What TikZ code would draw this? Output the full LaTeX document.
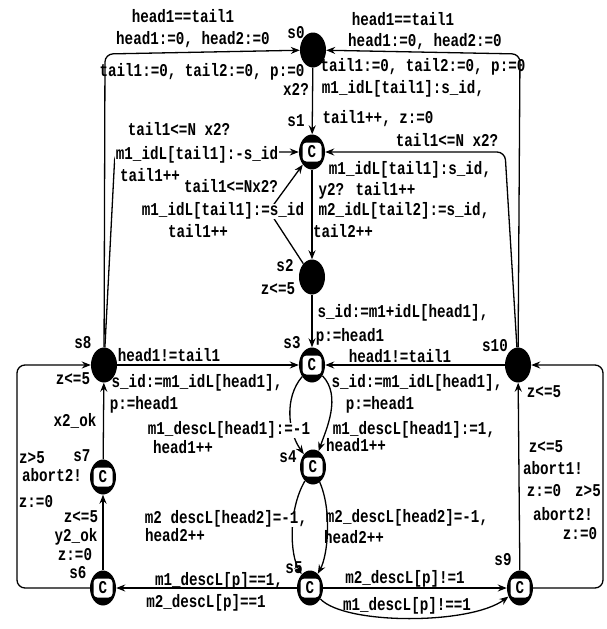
\documentclass[tikz,border=0pt]{standalone}
\usepackage{fontspec}
\setmainfont{Liberation Mono}[FakeStretch=0.79]
\usetikzlibrary{shapes.geometric,arrows.meta}
\begin{document}
\begin{tikzpicture}[x=1pt,y=-1pt,
  lblfont/.style={font=\fontsize{18}{20}\selectfont\bfseries},
  full/.style={ellipse,fill=black,minimum width=26pt,minimum height=35pt,inner sep=0pt},
  cbox/.style={fill=white,rounded corners=4pt,minimum width=19pt,minimum height=19pt,inner sep=0pt,lblfont},
  comm/.style={full,label={[cbox]center:C}},
  edge/.style={line width=1.3pt,-{Stealth[length=9pt,width=7pt,inset=3pt]}},
  lbl/.style={lblfont,inner sep=0.5pt,text height=11pt,text depth=3pt},
  lblw/.style={lbl,fill=white},
]
\useasboundingbox (0,0) rectangle (606,629);
% states
\node[full] (s0) at (313,50) {};
\node[comm] (s1) at (312,152) {};
\node[full] (s2) at (312,277) {};
\node[comm] (s3) at (312,365) {};
\node[comm] (s4) at (313,467) {};
\node[comm] (s5) at (310,588) {};
\node[comm] (s6) at (103,588) {};
\node[comm] (s7) at (103,477) {};
\node[full] (s8) at (104,365) {};
\node[comm] (s9) at (520,588) {};
\node[full] (s10) at (518,365) {};
% bend points
\coordinate (k80) at (105,54);
\coordinate (k100) at (520,54);
\coordinate (k81) at (115,152);
\coordinate (k21) at (269,211);
\coordinate (k101) at (505,152);
\coordinate (k6) at (17,588);
\coordinate (k8) at (17,365);
\coordinate (k9) at (603,588);
\coordinate (k10) at (603,365);
% edges
\draw[edge,rounded corners=8pt] (s8) -- (k80) -- (s0);
\draw[edge,rounded corners=8pt] (s10) -- (k100) -- (s0);
\draw[edge] (s0) -- (s1);
\draw[edge,rounded corners=8pt] (s8) -- (k81) -- (s1);
\draw[edge] (s2) -- (k21) -- (s1);
\draw[edge] (s1) -- (s2);
\draw[edge,rounded corners=8pt] (s10) -- (k101) -- (s1);
\draw[edge] (s2) -- (s3);
\draw[edge] (s8) -- (s3);
\draw[edge] (s10) -- (s3);
\draw[edge] (s3) .. controls (284,398) and (288,432) .. (s4);
\draw[edge] (s3) .. controls (342,396) and (326,430) .. (s4);
\draw[edge] (s4) .. controls (288,510) and (290,555) .. (s5);
\draw[edge] (s4) .. controls (332,510) and (328,555) .. (s5);
\draw[edge] (s5) -- (s6);
\draw[edge] (s5) -- (s9);
\draw[edge] (s5) .. controls (345,625) and (470,625) .. (s9);
\draw[edge] (s6) -- (s7);
\draw[edge] (s7) -- (s8);
\draw[edge,rounded corners=8pt] (s6) -- (k6) -- (k8) -- (s8);
\draw[edge] (s9) -- (s10);
\draw[edge,rounded corners=8pt] (s9) -- (k9) -- (k10) -- (s10);
% state names
\node[lbl] (ns0) at (296,34) {s0};
\node[lbl] (ns1) at (296,122) {s1};
\node[lbl] (ns2) at (285,267) {s2};
\node[lbl] (ns3) at (292,344) {s3};
\node[lbl] (ns4) at (288,458) {s4};
\node[lbl] (ns5) at (294,569) {s5};
\node[lbl] (ns6) at (78,574) {s6};
\node[lbl] (ns7) at (82,457) {s7};
\node[lbl] (ns8) at (83,344) {s8};
\node[lbl] (ns9) at (503,561) {s9};
\node[lbl] (ns10) at (495,347) {s10};
% labels
\node[lbl] (la1) at (183,18) {head1==tail1};
\node[lbl] (la2) at (193,40) {head1:=0, head2:=0};
\node[lbl] (la3) at (202,72) {tail1:=0, tail2:=0, p:=0};
\node[lbl] (lb1) at (403,21) {head1==tail1};
\node[lbl] (lb2) at (425,42) {head1:=0, head2:=0};
\node[lbl] (lb3) at (423,67) {tail1:=0, tail2:=0, p:=0};
\node[lbl] (lc1) at (296,91) {x2?};
\node[lbl] (lc2) at (403,89) {m1\_idL[tail1]:s\_id,};
\node[lbl] (lc3) at (378,119) {tail1++, z:=0};
\node[lbl] (ld1) at (179,131) {tail1<=N x2?};
\node[lblw] (ld2) at (197,155) {m1\_idL[tail1]:-s\_id};
\node[lbl] (ld3) at (150,177) {tail1++};
\node[lbl] (le1) at (231,188) {tail1<=Nx2?};
\node[lblw] (le2) at (223,211) {m1\_idL[tail1]:=s\_id};
\node[lbl] (le3) at (198,233) {tail1++};
\node[lbl] (lf1) at (447,142) {tail1<=N x2?};
\node[lbl] (lf2) at (410,170) {m1\_idL[tail1]:s\_id,};
\node[lbl] (lf3) at (367,191) {y2? tail1++};
\node[lbl] (lf4) at (404,211) {m2\_idL[tail2]:=s\_id,};
\node[lbl] (lf5) at (343,233) {tail2++};
\node[lbl] (lg1) at (278,290) {z<=5};
\node[lbl] (lh1) at (403,313) {s\_id:=m1+idL[head1],};
\node[lbl] (lh2) at (350,337) {p:=head1};
\node[lbl] (li1) at (169,357) {head1!=tail1};
\node[lbl] (li2) at (400,358) {head1!=tail1};
\node[lbl] (lj1) at (73,380) {z<=5};
\node[lbl] (lj2) at (197,383) {s\_id:=m1\_idL[head1],};
\node[lbl] (lj3) at (144,405) {p:=head1};
\node[lbl] (lk1) at (544,393) {z<=5};
\node[lbl] (lk2) at (417,383) {s\_id:=m1\_idL[head1],};
\node[lbl] (lk3) at (380,405) {p:=head1};
\node[lbl] (ll1) at (75,422) {x2\_ok};
\node[lblw] (lm1) at (229,430) {m1\_descL[head1]:=-1};
\node[lbl] (lm2) at (183,449) {head1++};
\node[lbl] (ln1) at (414,430) {m1\_descL[head1]:=1,};
\node[lbl] (ln2) at (356,447) {head1++};
\node[lbl] (lo1) at (32,459) {z>5};
\node[lbl] (lo2) at (52,477) {abort2!};
\node[lbl] (lo3) at (36,503) {z:=0};
\node[lbl] (lp1) at (546,448) {z<=5};
\node[lbl] (lp2) at (553,470) {abort1!};
\node[lbl] (lp3) at (544,492) {z:=0};
\node[lbl] (lq1) at (588,492) {z>5};
\node[lbl] (lq2) at (563,516) {abort2!};
\node[lbl] (lq3) at (580,535) {z:=0};
\node[lbl] (lr1) at (81,518) {z<=5};
\node[lbl] (lr2) at (76,537) {y2\_ok};
\node[lbl] (lr3) at (75,556) {z:=0};
\node[lblw] (lt1) at (226,519) {m2 descL[head2]=-1,};
\node[lbl] (lt2) at (175,537) {head2++};
\node[lbl] (lu1) at (407,518) {m2\_descL[head2]=-1,};
\node[lbl] (lu2) at (354,539) {head2++};
\node[lbl] (lv1) at (219,581) {m1\_descL[p]==1,};
\node[lbl] (lv2) at (206,603) {m2\_descL[p]==1};
\node[lbl] (lw1) at (405,579) {m2\_descL[p]!=1};
\node[lbl] (lw2) at (407,606) {m1\_descL[p]!==1};
\end{tikzpicture}
\end{document}
